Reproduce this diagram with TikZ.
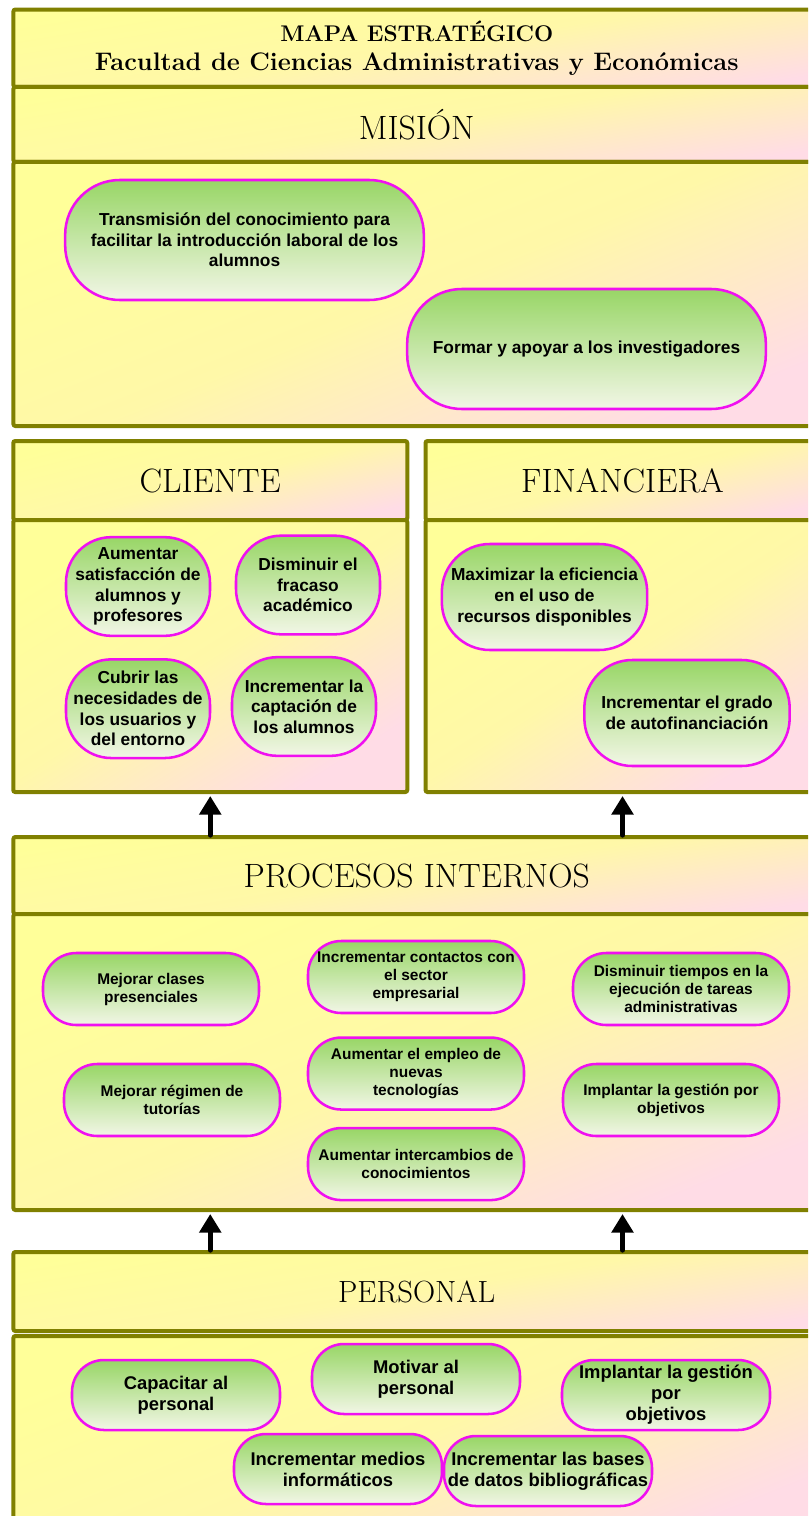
\documentclass[tikz,border=0pt]{standalone}
\usepackage{fontspec}
\usepackage{xcolor}
\usepackage{tikz}
\usetikzlibrary{positioning, arrows.meta}
\newfontfamily\objfont{Liberation Sans}
\definecolor{marco}{HTML}{808000}
\definecolor{panelsup}{HTML}{FFFF99}
\definecolor{panelmed}{HTML}{FFF8A8}
\definecolor{panelinf}{HTML}{FFDCE6}
\definecolor{borde}{HTML}{F010F0}
\definecolor{verdesup}{HTML}{98D666}
\definecolor{verdeinf}{HTML}{F2F6E6}
\tikzstyle{panel} = [rectangle, rounded corners=1.5pt, draw=marco, line width=3pt, inner sep=0pt, top color=panelsup, bottom color=panelinf, middle color=panelmed, shading angle=22]
\tikzstyle{heading} = [panel, shading angle=9, font=\fontsize{25.3}{29}\selectfont]
\tikzstyle{wide} = [minimum width=605pt]
\tikzstyle{half} = [minimum width=295.5pt]
\tikzstyle{objective} = [rectangle, draw=borde, line width=1.9pt, top color=verdesup, bottom color=verdeinf, inner sep=0pt, align=center, font=\objfont\bfseries\fontsize{13}{15.5}\selectfont]
\tikzstyle{misobj} = [objective, minimum width=269pt, minimum height=90pt, rounded corners=41pt]
\tikzstyle{cliobj} = [objective, minimum width=108pt, minimum height=74pt, rounded corners=34pt]
\tikzstyle{finobj} = [objective, minimum width=154pt, minimum height=79.5pt, rounded corners=36pt]
\tikzstyle{proobj} = [objective, minimum width=162pt, minimum height=54pt, rounded corners=25pt, font=\objfont\bfseries\fontsize{11.6}{13.5}\selectfont]
\tikzstyle{perobj} = [objective, minimum width=156pt, minimum height=52.5pt, rounded corners=24pt, font=\objfont\bfseries\fontsize{13.8}{15.75}\selectfont]
\tikzstyle{arrow} = [line width=4pt, line cap=round, -{Triangle[length=14pt,width=16pt]}, shorten >=1.5pt]

\begin{document}
\begin{tikzpicture}[x=0.75pt, y=-0.75pt]
    \useasboundingbox (0,0) rectangle (808,1516);
    \clip (0,0) rectangle (808,1516);

    % Title and Mission
    \node[panel, wide, shading angle=9, minimum height=58.1pt, align=center, font=\bfseries\fontsize{17}{21}\selectfont] (titulo) at (416.75,48.25)
        {MAPA ESTRATÉGICO\\[1pt]\fontsize{19}{21}\selectfont Facultad de Ciencias Administrativas y Económicas};
    \node[heading, wide, minimum height=56.25pt] (mision) at (416.75,124.5) {MISIÓN};
    \node[panel, wide, minimum height=198pt] (misioncuerpo) at (416.75,294) {};
    \node[misobj] (transmision) at (244.5,240) {Transmisión del conocimiento para\\facilitar la introducción laboral de los\\alumnos};
    \node[misobj] (formar) at (586.5,349) {Formar y apoyar a los investigadores};

    % Client
    \node[heading, half, shading angle=14, minimum height=59.25pt] (cliente) at (210.25,480.5) {CLIENTE};
    \node[panel, half, shading angle=32, minimum height=204pt] (clientecuerpo) at (210.25,656) {};
    \node[cliobj] (satisfaccion) at (138,586.5) {Aumentar\\satisfacción de\\alumnos y\\profesores};
    \node[cliobj] (fracaso) at (308,585) {Disminuir el\\fracaso\\académico};
    \node[cliobj, below=15.75pt of satisfaccion] (necesidades) {Cubrir las\\necesidades de\\los usuarios y\\del entorno};
    \node[cliobj] (captacion) at (304,706.5) {Incrementar la\\captación de\\los alumnos};

    % Financial
    \node[heading, half, shading angle=14, minimum height=59.25pt] (financiera) at (622.5,480.5) {FINANCIERA};
    \node[panel, half, shading angle=32, minimum height=204pt] (financieracuerpo) at (622.5,656) {};
    \node[finobj] (eficiencia) at (544.5,597) {Maximizar la eficiencia\\en el uso  de\\recursos disponibles};
    \node[finobj] (autofin) at (687,713) {Incrementar el grado\\de autofinanciación};

    % Internal processes
    \node[heading, wide, minimum height=57.75pt] (procesos) at (416.75,875.5) {PROCESOS INTERNOS};
    \node[panel, wide, minimum height=222pt] (procesoscuerpo) at (416.75,1062) {};
    \node[proobj] (clases) at (151,989) {Mejorar clases\\presenciales};
    \node[proobj] (contactos) at (416,977) {Incrementar contactos con\\el sector\\empresarial};
    \node[proobj] (tiempos) at (681,989) {Disminuir tiempos en la\\ejecución de tareas\\administrativas};
    \node[proobj] (tutorias) at (172,1100) {Mejorar régimen de\\tutorías};
    \node[proobj, below=16.5pt of contactos] (tecnologias) {Aumentar el empleo de\\nuevas\\tecnologías};
    \node[proobj] (gestion) at (671,1100) {Implantar la gestión por\\objetivos};
    \node[proobj, below=12pt of tecnologias] (intercambios) {Aumentar intercambios de\\conocimientos};

    % Staff
    \node[heading, wide, minimum height=59.25pt, font=\fontsize{23}{27}\selectfont] (personal) at (416.75,1291.5) {PERSONAL};
    \node[panel, wide, minimum height=149.25pt] (personalcuerpo) at (416.75,1435.5) {};
    \node[perobj] (capacitar) at (176,1395) {Capacitar al\\personal};
    \node[perobj] (motivar) at (416,1379) {Motivar al\\personal};
    \node[perobj] (implantar) at (666,1395) {Implantar la gestión\\por\\objetivos};
    \node[perobj] (medios) at (338,1469) {Incrementar medios\\informáticos};
    \node[perobj] (bases) at (548,1471) {Incrementar las bases\\de datos bibliográficas};

    % Connections
    \draw[arrow] (procesos.north -| clientecuerpo.south) -- (clientecuerpo.south);
    \draw[arrow] (procesos.north -| financieracuerpo.south) -- (financieracuerpo.south);
    \draw[arrow] (personal.north -| clientecuerpo.south) -- (procesoscuerpo.south -| clientecuerpo.south);
    \draw[arrow] (personal.north -| financieracuerpo.south) -- (procesoscuerpo.south -| financieracuerpo.south);

\end{tikzpicture}
\end{document}
